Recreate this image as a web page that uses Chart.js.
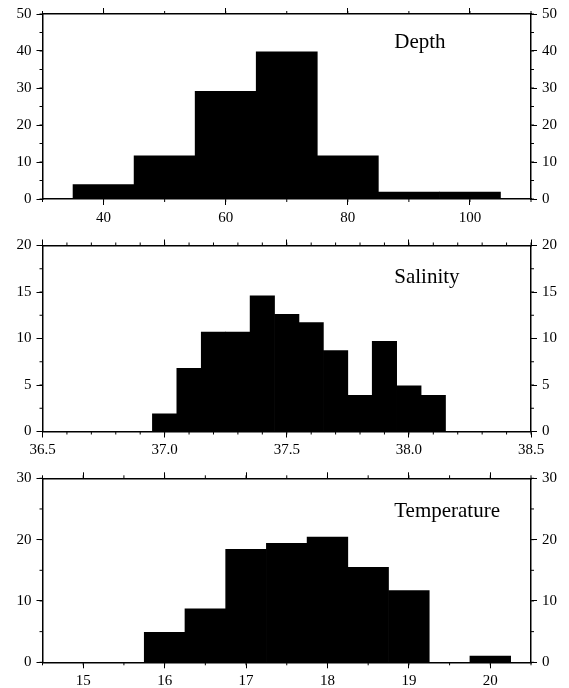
<!DOCTYPE html>
<html>
<head>
<meta charset="utf-8">
<script src="https://cdn.jsdelivr.net/npm/chart.js@4.4.1/dist/chart.umd.min.js"></script>
<style>
  html, body { margin: 0; padding: 0; background: #fff; }
  #wrap { position: relative; width: 569px; height: 688px; }
  canvas { position: absolute; left: 0; }
</style>
</head>
<body>
<div id="wrap">
  <canvas id="depthChart" width="569" height="229" style="top:0px"></canvas>
  <canvas id="salinityChart" width="569" height="230" style="top:229px"></canvas>
  <canvas id="tempChart" width="569" height="229" style="top:459px"></canvas>
</div>
<script>
// bin centres and percent of samples in each bin
var depthBins = [40, 50, 60, 70, 80, 90, 100];
var depthPct = [3.9, 11.7, 29.1, 39.8, 11.7, 1.9, 1.9];

var salinityBins = [37.0, 37.1, 37.2, 37.3, 37.4, 37.5, 37.6, 37.7, 37.8, 37.9, 38.0, 38.1];
var salinityPct = [1.9, 6.8, 10.7, 10.7, 14.6, 12.6, 11.7, 8.7, 3.9, 9.7, 4.9, 3.9];

var tempBins = [16.0, 16.5, 17.0, 17.5, 18.0, 18.5, 19.0, 20.0];
var tempPct = [4.9, 8.7, 18.4, 19.4, 20.4, 15.5, 11.7, 1.0];

var panelTitles = ['Depth', 'Salinity', 'Temperature'];
var xRanges = [[30, 110], [36.5, 38.5], [14.5, 20.5]];
var xMajor = [20, 0.5, 1];
var xMinor = [10, 0.1, 0.5];
var xDecimals = [0, 1, 0];
var yMax = [50, 20, 30];
var yMajor = [10, 5, 10];
var yMinor = [5, 2.5, 5];

var FONT = { family: '"Liberation Serif", "Times New Roman", serif', size: 15 };

// short minor ticks, drawn from the chart's own scales
var minorTicks = {
  id: 'minorTicks',
  afterDraw: function (chart, args, opts) {
    var ctx = chart.ctx;
    var area = chart.chartArea;
    var len = 3;
    ctx.save();
    ctx.strokeStyle = '#000';
    ctx.lineWidth = 1;
    Object.keys(opts.steps || {}).forEach(function (id) {
      var s = chart.scales[id];
      var step = opts.steps[id];
      var n = Math.round((s.max - s.min) / step);
      for (var i = 0; i <= n; i++) {
        var p = s.getPixelForValue(s.min + i * step);
        ctx.beginPath();
        if (s.position === 'bottom') { ctx.moveTo(p, area.bottom); ctx.lineTo(p, area.bottom + len); }
        if (s.position === 'top') { ctx.moveTo(p, area.top); ctx.lineTo(p, area.top - len); }
        if (s.position === 'left') { ctx.moveTo(area.left, p); ctx.lineTo(area.left - len, p); }
        if (s.position === 'right') { ctx.moveTo(area.right, p); ctx.lineTo(area.right + len, p); }
        ctx.stroke();
      }
    });
    ctx.restore();
  }
};

var panelLabel = {
  id: 'panelLabel',
  afterDraw: function (chart, args, opts) {
    var a = chart.chartArea;
    var ctx = chart.ctx;
    ctx.save();
    ctx.fillStyle = '#000';
    ctx.font = '21px "Liberation Serif", "Times New Roman", serif';
    ctx.textAlign = 'left';
    ctx.textBaseline = 'alphabetic';
    ctx.fillText(opts.text, a.left + opts.fx * (a.right - a.left), a.top + opts.fy * (a.bottom - a.top));
    ctx.restore();
  }
};

// major ticks on multiples of step only (the range ends are not always on one)
function onSteps(step) {
  return function (scale) {
    var ticks = [];
    var n0 = Math.ceil(scale.min / step - 1e-9);
    var n1 = Math.floor(scale.max / step + 1e-9);
    for (var n = n0; n <= n1; n++) {
      ticks.push({ value: n * step });
    }
    scale.ticks = ticks;
  };
}

function makePanel(canvasId, i, bins, pct, topH, bottomH, fy) {
  var points = [];
  for (var k = 0; k < bins.length; k++) {
    points.push({ x: bins[k], y: pct[k] });
  }
  var border = { display: true, color: '#000', width: 1.5 };
  var grid = { display: true, drawOnChartArea: false, drawTicks: true, tickLength: 6, color: '#000', tickColor: '#000', tickWidth: 1, offset: false };
  var xFmt = function (v) { return Number(v).toFixed(xDecimals[i]); };

  return new Chart(document.getElementById(canvasId), {
    type: 'bar',
    data: {
      datasets: [{
        data: points,
        xAxisID: 'x',
        yAxisID: 'y',
        backgroundColor: '#000',
        borderWidth: 0,
        barPercentage: 1,
        categoryPercentage: 1
      }]
    },
    options: {
      responsive: false,
      animation: false,
      layout: { padding: 0 },
      plugins: {
        legend: { display: false },
        tooltip: { enabled: false },
        minorTicks: { steps: { x: xMinor[i], x2: xMinor[i], y: yMinor[i], y2: yMinor[i] } },
        panelLabel: { text: panelTitles[i], fx: 0.72, fy: fy }
      },
      scales: {
        x: {
          type: 'linear', position: 'bottom', offset: false,
          min: xRanges[i][0], max: xRanges[i][1],
          ticks: { color: '#000', font: FONT, padding: 4, maxRotation: 0, autoSkip: false, callback: xFmt },
          afterBuildTicks: onSteps(xMajor[i]),
          afterFit: function (s) { s.height = bottomH; },
          grid: grid, border: border
        },
        x2: {
          type: 'linear', position: 'top', offset: false,
          min: xRanges[i][0], max: xRanges[i][1],
          ticks: { display: false },
          afterBuildTicks: onSteps(xMajor[i]),
          afterFit: function (s) { s.height = topH; },
          grid: grid, border: border
        },
        y: {
          type: 'linear', position: 'left',
          min: 0, max: yMax[i],
          ticks: { stepSize: yMajor[i], color: '#000', font: FONT, padding: 5 },
          afterFit: function (s) { s.width = 42.5; },
          grid: grid, border: border
        },
        y2: {
          type: 'linear', position: 'right',
          min: 0, max: yMax[i],
          ticks: { stepSize: yMajor[i], color: '#000', font: FONT, padding: 5 },
          afterFit: function (s) { s.width = 38; },
          grid: grid, border: border
        }
      }
    },
    plugins: [minorTicks, panelLabel]
  });
}

makePanel('depthChart', 0, depthBins, depthPct, 12.5, 30, 0.185);
makePanel('salinityChart', 1, salinityBins, salinityPct, 16.5, 27.5, 0.2);
makePanel('tempChart', 2, tempBins, tempPct, 19.3, 25.7, 0.21);
</script>
</body>
</html>
